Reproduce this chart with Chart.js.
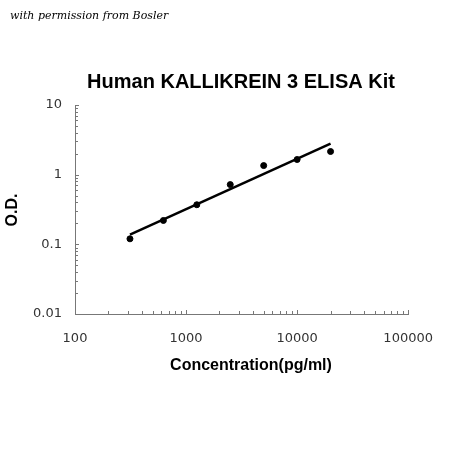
<!DOCTYPE html>
<html><head><script src="https://cdn.jsdelivr.net/npm/chart.js@4"></script>
<style>html,body{margin:0;padding:0;background:#fff}#c{display:block}</style></head>
<body><div style="width:450px;height:450px"><canvas id="c"></canvas></div>
<script>
const concentrations=[312.5,625,1250,2500,5000,10000,20000];
const odValues=[0.12,0.22,0.37,0.72,1.35,1.65,2.15];
const trendX=[312.5,20000];
const trendY=[0.138,2.8];
const xTicks=[100,1000,10000,100000];
const yTicks=[0.01,0.1,1,10];
const textPlugin={id:'txt',afterDraw(c){const x=c.ctx;x.save();
const xs=c.scales.x, ys=c.scales.y, a=c.chartArea;
x.strokeStyle='#777';x.lineWidth=1;x.beginPath();
for(let d=100;d<100000;d*=10){for(let m=1;m<=10;m++){const px=Math.round(xs.getPixelForValue(d*m))+0.5;const L=(m===1||m===10)?4:3;x.moveTo(px,a.bottom);x.lineTo(px,a.bottom-L);}}
for(let d=0.01;d<10;d*=10){for(let m=1;m<=10;m++){const py=Math.round(ys.getPixelForValue(d*m))+0.5;const L=(m===1||m===10)?4:3;x.moveTo(a.left,py);x.lineTo(a.left+L,py);}}
x.stroke();
x.fillStyle='#000';
x.font='italic 11px "DejaVu Serif", serif';x.textAlign='left';x.textBaseline='middle';x.fillText('with permission from Bosler',10,16);
x.font='bold 20px "Liberation Sans", Arial';x.textAlign='center';x.fillText('Human KALLIKREIN 3 ELISA Kit',241,82);
x.font='bold 16px "Liberation Sans", Arial';x.fillText('Concentration(pg/ml)',251,366);
x.translate(13,210);x.rotate(-Math.PI/2);x.fillText('O.D.',0,0);x.restore();}};
new Chart(document.getElementById('c'),{
data:{datasets:[
{type:'scatter',data:concentrations.map((v,i)=>({x:v,y:odValues[i]})),backgroundColor:'#000',borderColor:'#000',pointRadius:3},
{type:'line',data:trendX.map((v,i)=>({x:v,y:trendY[i]})),borderColor:'#000',borderWidth:2.5,pointRadius:0,fill:false}
]},
options:{responsive:true,maintainAspectRatio:false,animation:false,
layout:{padding:{top:105,right:23,left:0,bottom:0}},
plugins:{legend:{display:false},tooltip:{enabled:false}},
scales:{
x:{type:'logarithmic',min:100,max:100000,afterFit(s){s.height=136;},
afterBuildTicks(s){s.ticks=xTicks.map(v=>({value:v}));},
grid:{display:false,drawTicks:false},border:{color:'#777'},
ticks:{color:'#333',padding:17,font:{size:13,family:'"DejaVu Sans", sans-serif'},maxRotation:0,callback:v=>String(v)}},
y:{type:'logarithmic',min:0.01,max:10,afterFit(s){s.width=75;},
afterBuildTicks(s){s.ticks=yTicks.map(v=>({value:v}));},
grid:{display:false,drawTicks:false},border:{color:'#777'},
ticks:{color:'#333',padding:13,font:{size:13,family:'"DejaVu Sans", sans-serif'},callback:v=>String(v)}}
}},plugins:[textPlugin]});
</script></body></html>
